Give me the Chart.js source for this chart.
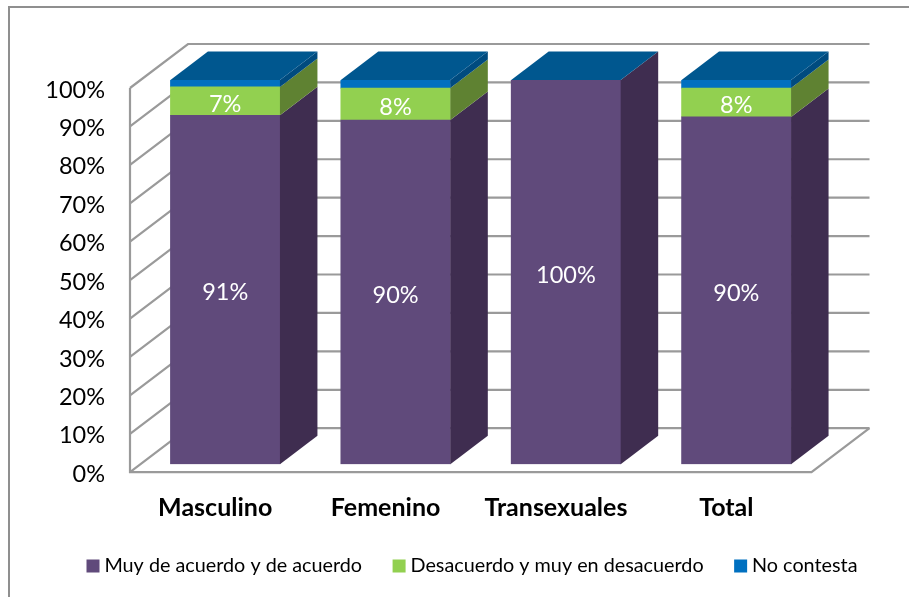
<!DOCTYPE html>
<html><head><meta charset="utf-8">
<style>html,body{margin:0;padding:0;background:#fff}#w{width:909px;height:597px}</style>
<script src="https://cdn.jsdelivr.net/npm/chart.js@4"></script>
</head><body><div id="w"><canvas id="c" width="909" height="597"></canvas></div>
<script>
const categories = ["Masculino", "Femenino", "Transexuales", "Total"];
const seriesNames = ["Muy de acuerdo y de acuerdo", "Desacuerdo y muy en desacuerdo", "No contesta"];
const acuerdo = [90.8, 89.6, 100, 90.4];
const desacuerdo = [7.4, 8.3, 0, 7.5];
const noContesta = [1.8, 2.1, 0, 2.1];
const frontColors = ["#604a7b", "#92d050", "#0070c0"];
const sideColors = ["#3f2d50", "#5f8232", "#004b7f"];
const topColor = "#00578f";
const gridColor = "#9a9a9a";
const FONT = "Lato";

// 3D projection constants
const BAR_DX = 37.5, BAR_DY = -28.5;
const FRONT_DX = -10, FRONT_DY = 8;
const WALL_DX = 48, WALL_DY = -36;

const depthPlugin = {
  id: "depth",
  afterLayout(chart) {
    const l = chart.legend;
    l.left = 56; l.right = 909; l.top = 520.5;
  },
  beforeDraw(chart) {
    const c = chart.ctx;
    c.save();
    c.strokeStyle = "#8f8f8f"; c.lineWidth = 2;
    c.beginPath();
    c.moveTo(9, 597); c.lineTo(9, 7); c.lineTo(909, 7);
    c.stroke();
    c.restore();
  },
  beforeDatasetsDraw(chart) {
    const c = chart.ctx, y = chart.scales.y, a = chart.chartArea;
    c.save();
    c.strokeStyle = gridColor; c.lineWidth = 2.2; c.lineJoin = "miter";
    const fl = a.left + FRONT_DX, fr = a.right + FRONT_DX;
    const wl = a.left + WALL_DX, wr = a.right + WALL_DX;
    y.ticks.forEach(t => {
      const p = y.getPixelForValue(t.value);
      c.beginPath();
      c.moveTo(fl, p + FRONT_DY);
      c.lineTo(wl, p + WALL_DY);
      c.lineTo(wr, p + WALL_DY);
      c.stroke();
    });
    const p0 = y.getPixelForValue(0), p1 = y.getPixelForValue(100);
    c.beginPath();
    c.moveTo(fl, p1 + FRONT_DY);
    c.lineTo(fl, p0 + FRONT_DY);
    c.lineTo(fr, p0 + FRONT_DY);
    c.lineTo(wr, p0 + WALL_DY);
    c.stroke();
    c.restore();
  },
  afterDatasetsDraw(chart) {
    const c = chart.ctx;
    const metas = chart.getSortedVisibleDatasetMetas();
    c.save();
    metas.forEach((m, di) => {
      m.data.forEach(b => {
        const r = b.x + b.width / 2;
        if (Math.abs(b.base - b.y) < 0.01) return;
        c.fillStyle = sideColors[di];
        c.beginPath();
        c.moveTo(r, b.y); c.lineTo(r + BAR_DX, b.y + BAR_DY);
        c.lineTo(r + BAR_DX, b.base + BAR_DY); c.lineTo(r, b.base);
        c.closePath(); c.fill();
      });
    });
    const y = chart.scales.y;
    const top = y.getPixelForValue(100);
    metas[0].data.forEach(b => {
      const l = b.x - b.width / 2, r = b.x + b.width / 2;
      c.fillStyle = topColor;
      c.beginPath();
      c.moveTo(l, top); c.lineTo(l + BAR_DX, top + BAR_DY);
      c.lineTo(r + BAR_DX, top + BAR_DY); c.lineTo(r, top);
      c.closePath(); c.fill();
    });
    c.fillStyle = "#ffffff";
    c.font = "23.5px " + FONT;
    c.textAlign = "center"; c.textBaseline = "middle";
    metas.slice(0, 2).forEach((m, di) => {
      m.data.forEach((b, i) => {
        const v = chart.data.datasets[di].data[i];
        if (!v) return;
        c.fillText(Math.round(v) + "%", b.x, (b.y + b.base) / 2 + 3);
      });
    });
    c.restore();
  }
};

new Chart(document.getElementById("c"), {
  type: "bar",
  data: {
    labels: categories,
    datasets: [
      { label: seriesNames[0], data: acuerdo, backgroundColor: frontColors[0], borderWidth: 0 },
      { label: seriesNames[1], data: desacuerdo, backgroundColor: frontColors[1], borderWidth: 0 },
      { label: seriesNames[2], data: noContesta, backgroundColor: frontColors[2], borderWidth: 0 }
    ]
  },
  plugins: [depthPlugin],
  options: {
    responsive: false,
    animation: false,
    layout: { padding: { left: 0, right: 0, top: 80, bottom: 0 } },
    datasets: { bar: { barThickness: 109.5 } },
    plugins: {
      tooltip: { enabled: false },
      legend: {
        display: true, position: "bottom", align: "start",
        labels: {
          usePointStyle: true, pointStyle: "rect", boxWidth: 3, boxHeight: 13,
          padding: 35.5, color: "#000", font: { family: FONT, size: 19.8 }
        }
      }
    },
    scales: {
      x: {
        stacked: true,
        afterFit(s) { s.height = 67.5; },
        grid: { display: false, drawTicks: false }, border: { display: false },
        ticks: { color: "#000", padding: 29, labelOffset: FRONT_DX, maxRotation: 0, font: { family: FONT, size: 25, weight: "bold" } }
      },
      y: {
        stacked: true, min: 0, max: 100,
        afterFit(s) { s.width = 140; },
        grid: { display: false, drawTicks: false }, border: { display: false },
        ticks: { stepSize: 10, color: "#000", padding: 35, labelOffset: FRONT_DY + 2, callback: v => v + "%", font: { family: FONT, size: 23.5 } }
      },
      rightMargin: {
        type: "linear", position: "right", axis: "y",
        afterFit(s) { s.width = 87.5; },
        grid: { display: false, drawTicks: false }, border: { display: false },
        ticks: { display: false }
      }
    }
  }
});
</script></body></html>
